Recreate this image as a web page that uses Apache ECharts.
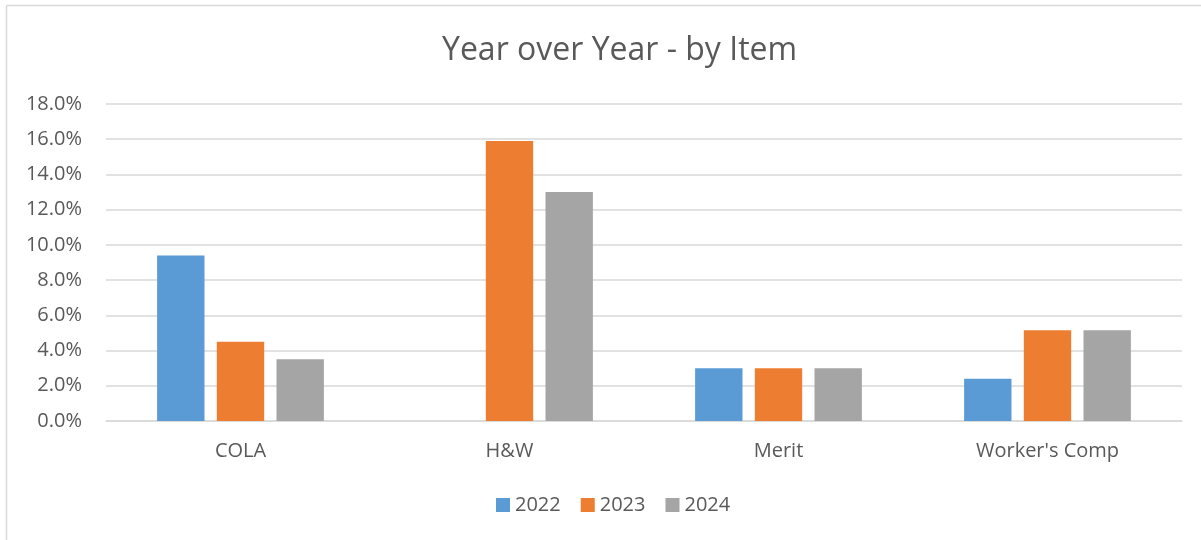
<!DOCTYPE html>
<html>
<head>
<meta charset="utf-8">
<script src="https://cdn.jsdelivr.net/npm/echarts@6/dist/echarts.min.js"></script>
<style>
html,body{margin:0;padding:0;background:#fff;}
#chart{width:1201px;height:540px;}
</style>
</head>
<body>
<div id="chart"></div>
<script>
const categories = ["COLA", "H&W", "Merit", "Worker's Comp"];
const seriesNames = ["2022", "2023", "2024"];
const values2022 = [9.4, null, 3.0, 2.4];
const values2023 = [4.5, 15.9, 3.0, 5.15];
const values2024 = [3.5, 13.0, 3.0, 5.15];
const yTicks = [0, 2, 4, 6, 8, 10, 12, 14, 16, 18];
const colors = ["#5b9bd5", "#ed7d31", "#a5a5a5"];

const FONT = "'Open Sans', 'Noto Sans', sans-serif";
const chart = echarts.init(document.getElementById('chart'), null, {renderer: 'canvas'});
const dataSets = [values2022, values2023, values2024];

chart.setOption({
  animation: false,
  backgroundColor: '#ffffff',
  title: {
    text: 'Year over Year - by Item',
    left: 437,
    top: 30,
    textStyle: {fontFamily: FONT, fontSize: 32, fontWeight: 'normal', color: '#595959'}
  },
  legend: {
    data: seriesNames,
    bottom: 20,
    left: 491,
    itemWidth: 14,
    itemHeight: 14,
    itemGap: 20,
    icon: 'rect',
    textStyle: {fontFamily: FONT, fontSize: 20, color: '#595959'}
  },
  grid: {left: 106, right: 19, top: 104, bottom: 119, containLabel: false},
  xAxis: {
    type: 'category',
    data: categories,
    axisLine: {show: true, lineStyle: {color: '#d9d9d9', width: 1.5}},
    axisTick: {show: false},
    axisLabel: {fontFamily: FONT, fontSize: 20, color: '#595959', margin: 20}
  },
  yAxis: {
    type: 'value',
    min: yTicks[0],
    max: yTicks[yTicks.length - 1],
    interval: 2,
    axisLine: {show: false},
    axisTick: {show: false},
    splitLine: {lineStyle: {color: '#d9d9d9', width: 1.5}},
    axisLabel: {fontFamily: FONT, fontSize: 20, color: '#595959', margin: 24,
      formatter: v => v.toFixed(1) + '%'}
  },
  series: seriesNames.map((name, i) => ({
    name: name,
    type: 'bar',
    data: dataSets[i],
    barGap: '26%',
    barCategoryGap: '38%',
    itemStyle: {color: colors[i]}
  })),
  graphic: [
    {type: 'line', shape: {x1: 6.5, y1: 5.5, x2: 6.5, y2: 540}, style: {stroke: '#d9d9d9', lineWidth: 1.5}},
    {type: 'line', shape: {x1: 6.5, y1: 5.5, x2: 1201, y2: 5.5}, style: {stroke: '#d9d9d9', lineWidth: 1.5}}
  ]
});
</script>
</body>
</html>
